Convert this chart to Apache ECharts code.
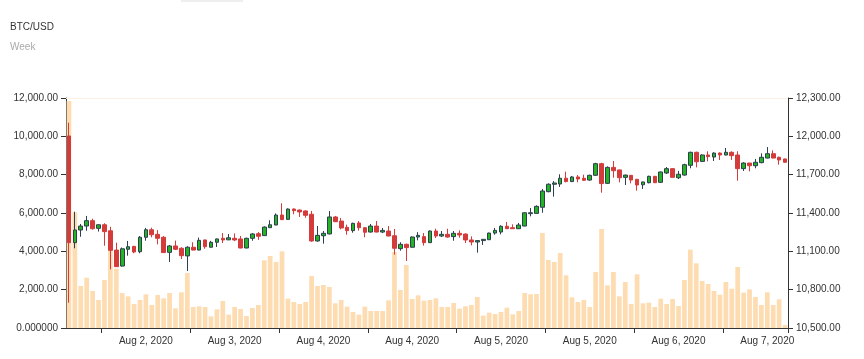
<!DOCTYPE html>
<html>
<head>
<meta charset="utf-8">
<style>
  html, body { margin: 0; padding: 0; background: #ffffff; }
  #chart { width: 864px; height: 359px; }
</style>
<script src="https://cdn.jsdelivr.net/npm/echarts@6/dist/echarts.min.js"></script>
</head>
<body>
<div id="chart"></div>
<script>
// ---- data ----
const openPrices = [12003,11168,11267,11298,11340,11280,11308,11261,11110,10985,11116,11139,11097,11210,11269,11233,11210,11092,11142,11124,
  11064,11132,11110,11189,11132,11171,11202,11190,11202,11197,11126,11202,11238,11223,11285,11306,11384,11350,11431,11423,
  11416,11390,11181,11222,11236,11369,11337,11288,11262,11322,11285,11251,11298,11251,11259,11222,11121,11155,11132,11212,
  11215,11168,11259,11220,11233,11215,11241,11235,11189,11173,11184,11191,11243,11251,11296,11285,11277,11298,11395,11397,
  11445,11567,11625,11627,11672,11646,11682,11672,11658,11695,11786,11632,11757,11737,11679,11695,11664,11621,11637,11687,
  11640,11713,11747,11676,11697,11773,11875,11804,11854,11838,11869,11854,11875,11854,11747,11791,11770,11794,11830,11864,
  11836,11823];
const closePrices = [11168,11267,11298,11340,11277,11308,11254,11108,10980,11120,11136,11095,11210,11269,11230,11202,11090,11142,11116,11066,
  11132,11110,11186,11136,11171,11197,11189,11206,11189,11126,11202,11236,11218,11290,11308,11384,11348,11431,11418,11408,
  11382,11181,11225,11241,11369,11332,11283,11262,11319,11285,11249,11298,11251,11264,11220,11124,11155,11129,11212,11225,
  11168,11259,11220,11233,11212,11241,11228,11189,11173,11184,11194,11243,11264,11296,11277,11277,11306,11402,11402,11452,
  11572,11625,11635,11672,11646,11682,11666,11656,11695,11786,11630,11757,11731,11676,11697,11658,11619,11643,11687,11637,
  11721,11747,11679,11703,11778,11875,11801,11854,11841,11869,11854,11875,11849,11747,11791,11770,11797,11836,11864,11830,
  11815,11797];
const lowPrices = [10698,11124,11214,11261,11270,11255,11144,10959,10978,10980,11066,11085,11085,11183,11210,11155,11088,11017,11110,11040,
  10946,11108,11108,11120,11130,11134,11165,11188,11180,11124,11124,11183,11190,11221,11283,11304,11346,11348,11390,11369,
  11363,11175,11175,11160,11233,11330,11272,11230,11246,11262,11210,11248,11248,11243,11218,11074,11105,11024,11129,11186,
  11145,11165,11204,11212,11207,11183,11207,11165,11147,11090,11150,11189,11230,11233,11275,11275,11275,11296,11374,11395,
  11402,11562,11528,11604,11640,11642,11640,11650,11653,11690,11559,11627,11676,11640,11619,11632,11575,11588,11632,11635,
  11637,11705,11677,11666,11692,11750,11757,11799,11804,11807,11815,11851,11815,11653,11729,11726,11750,11789,11828,11828,
  11778,11795];
const highPrices = [12107,11410,11314,11377,11355,11312,11320,11292,11168,11130,11181,11142,11220,11283,11285,11266,11220,11150,11184,11132,
  11140,11171,11207,11192,11182,11200,11243,11236,11240,11220,11207,11243,11251,11295,11343,11397,11476,11436,11436,11428,
  11421,11416,11298,11259,11416,11377,11361,11309,11324,11337,11290,11314,11337,11283,11298,11275,11171,11160,11217,11250,
  11243,11264,11277,11259,11277,11259,11264,11241,11217,11186,11196,11246,11283,11304,11330,11311,11322,11404,11439,11460,
  11588,11632,11650,11703,11723,11690,11697,11700,11700,11793,11793,11765,11807,11740,11700,11697,11666,11645,11692,11690,
  11724,11760,11750,11729,11786,11880,11880,11859,11883,11875,11875,11909,11883,11883,11797,11791,11823,11867,11916,11890,
  11841,11825];
const volumes = [11843,6036,2191,2625,1930,1461,2504,4069,3095,1826,1652,1252,1461,1757,1200,1722,1548,1826,1026,1861,
  2870,1096,1130,1096,609,974,1409,696,1096,991,626,1043,1200,3531,3756,3443,4000,1530,1356,1252,
  1356,2713,2191,2243,2139,1287,1461,1113,835,696,1113,887,887,887,1443,3965,1983,3287,1513,1704,
  1426,1461,1548,1096,1096,1304,1009,1130,1200,1617,644,800,730,835,1061,713,887,1826,1757,1774,
  4956,3548,3443,3913,2748,1600,1356,1461,1096,2922,5165,2226,2922,1652,2400,1252,2800,1287,1322,1096,
  1530,1252,1513,1148,2504,4087,3374,2452,2296,1930,1739,2400,2052,3183,1843,2017,1617,1200,1861,1200,
  1496,157];
const tickLabels = ["Aug 2, 2020","Aug 3, 2020","Aug 4, 2020","Aug 4, 2020","Aug 5, 2020","Aug 5, 2020","Aug 6, 2020","Aug 7, 2020"];
const tickLabelIndex = [13, 28, 43, 58, 73, 88, 103, 118];
const tickIndex = [6, 21, 36, 51, 66, 81, 96, 111];
const categories = openPrices.map((_, i) => String(i));

// ---- build ----
const candleData = openPrices.map((o, i) => [o, closePrices[i], lowPrices[i], highPrices[i]]);
const labelMap = {};
tickLabelIndex.forEach((idx, k) => { labelMap[idx] = tickLabels[k]; });
const fmt2 = v => v.toLocaleString('en-US', {minimumFractionDigits: 2, maximumFractionDigits: 2});
const FONT = 'Liberation Sans, Arial, sans-serif';

const chart = echarts.init(document.getElementById('chart'), null, {renderer: 'canvas'});
chart.setOption({
  animation: false,
  backgroundColor: '#ffffff',
  title: {
    text: 'BTC/USD', subtext: 'Week', left: 5, top: 17, itemGap: 10,
    textStyle: {fontSize: 10, fontWeight: 'normal', color: '#333', fontFamily: FONT},
    subtextStyle: {fontSize: 10, color: '#aaa', fontFamily: FONT}
  },
  graphic: [{type: 'rect', left: 181, top: 0, shape: {width: 62, height: 2}, style: {fill: '#eeeeee'}}],
  grid: {left: 66, right: 76, top: 98, bottom: 31},
  xAxis: {
    type: 'category', data: categories, boundaryGap: true,
    axisLine: {show: true, lineStyle: {color: '#333', width: 1}},
    axisTick: {show: true, length: 5, lineStyle: {color: '#333'}, interval: (idx) => tickIndex.indexOf(idx) >= 0},
    axisLabel: {
      interval: (idx) => labelMap[idx] !== undefined,
      formatter: (v, idx) => labelMap[idx] || '',
      fontSize: 10, color: '#333', fontFamily: FONT, margin: 8
    },
    splitLine: {show: false}
  },
  yAxis: [
    {
      type: 'value', position: 'left', min: 0, max: 12000, interval: 2000,
      axisLine: {show: true, lineStyle: {color: '#333'}},
      axisTick: {show: true, length: 5, lineStyle: {color: '#333'}},
      axisLabel: {formatter: v => v === 0 ? '0.000000' : fmt2(v), fontSize: 10, color: '#333', fontFamily: FONT, margin: 8},
      splitLine: {show: false}
    },
    {
      type: 'value', position: 'right', min: 10500, max: 12300, interval: 300,
      axisLine: {show: true, lineStyle: {color: '#333'}},
      axisTick: {show: true, length: 5, lineStyle: {color: '#333'}},
      axisLabel: {formatter: v => fmt2(v), fontSize: 10, color: '#333', fontFamily: FONT, margin: 8},
      splitLine: {show: false}
    }
  ],
  series: [
    {
      type: 'bar', name: 'Volume', data: volumes, yAxisIndex: 0, barWidth: '80%', z: 1,
      itemStyle: {color: '#fedcb1'},
      markLine: {
        silent: true, symbol: 'none', label: {show: false},
        lineStyle: {color: '#fdf0e2', type: 'solid', width: 1},
        data: [{yAxis: 12000}]
      }
    },
    {
      type: 'candlestick', name: 'BTC/USD', data: candleData, yAxisIndex: 1, barWidth: '70%', z: 3,
      itemStyle: {color: '#22b422', color0: '#d43b3b', borderColor: '#2e3f50', borderColor0: '#d43b3b', borderWidth: 1}
    }
  ]
});
</script>
</body>
</html>
